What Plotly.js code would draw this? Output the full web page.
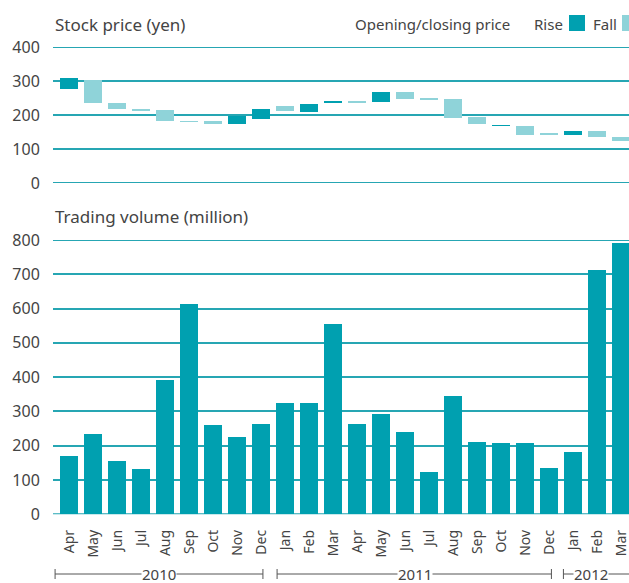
<!DOCTYPE html>
<html>
<head>
<meta charset="utf-8">
<script src="https://cdn.plot.ly/plotly-3.0.1.min.js"></script>
<style>html,body{margin:0;padding:0;background:#fff;}#chart{width:629px;height:583px;}</style>
</head>
<body>
<div id="chart"></div>
<script>
// ---- data ----
const months = ["Apr","May","Jun","Jul","Aug","Sep","Oct","Nov","Dec","Jan","Feb","Mar","Apr","May","Jun","Jul","Aug","Sep","Oct","Nov","Dec","Jan","Feb","Mar"];
const openPrice  = [276,303,235,219,216,182,182,174,188,226,209,235,241,238,268,250,247,194,168,168,147,141,153,135];
const closePrice = [309,235,218,212,182,179,174,198,218,212,232,241,235,268,247,244,191,174,171,141,141,153,135,124];
const volume     = [170,234,155,132,392,613,260,225,263,325,325,555,263,292,240,123,345,211,208,208,135,182,712,791];
const years = ["2010","2011","2012"];
const priceTicks = [0,100,200,300,400];
const volumeTicks = [0,100,200,300,400,500,600,700,800];

const DARK = "#00A0B0";
const LIGHT = "#8FD3D9";
const GRID = "#26A6B3";
const TXT = "#444444";
const FONT = "Noto Sans, sans-serif";

const idx = months.map((m,i)=>i);
const base = openPrice.map((o,i)=>Math.min(o, closePrice[i]));
const span = openPrice.map((o,i)=>Math.max(Math.abs(closePrice[i]-o), 1));
const colors = openPrice.map((o,i)=> closePrice[i] >= o ? DARK : LIGHT);

const traces = [
  {type:"bar", x:idx, y:span, base:base, marker:{color:colors, line:{width:0}}, width:0.75, xaxis:"x", yaxis:"y", hoverinfo:"skip"},
  {type:"bar", x:idx, y:volume, marker:{color:DARK, line:{width:0}}, width:0.75, xaxis:"x2", yaxis:"y2", hoverinfo:"skip"}
];

const xr = [-0.667, 23.333];
const commonY = {
  showline:false, zeroline:false, showgrid:true, gridcolor:GRID, gridwidth:2,
  ticks:"outside", ticklen:9, tickcolor:"rgba(0,0,0,0)",
  tickfont:{family:FONT, size:16, color:TXT}, fixedrange:true
};

const shapes = [];
const annotations = [];
// edge gridlines (Plotly omits gridlines at the range ends)
[[ "y", priceTicks[0] ], [ "y", priceTicks[priceTicks.length-1] ], [ "y2", volumeTicks[0] ], [ "y2", volumeTicks[volumeTicks.length-1] ]].forEach(([ax,v])=>{
  shapes.push({type:"line", xref:"paper", yref:ax, x0:0, x1:1, y0:v, y1:v, layer:"below", line:{color:GRID, width:2}});
});

const yb = 1 - 574/583;
const tickH = 5/583;
const brackets = [
  {label:years[0], x0:-0.58, x1:8.08, endRight:true, xt:3.75},
  {label:years[1], x0:8.67, x1:20.1, endRight:true, xt:14.4},
  {label:years[2], x0:20.6, x1:23.4, endRight:false, xt:21.75}
];
brackets.forEach(b=>{
  shapes.push({type:"line", xref:"x2", yref:"paper", x0:b.x0, x1:b.x1, y0:yb, y1:yb, line:{color:"#555", width:1}});
  shapes.push({type:"line", xref:"x2", yref:"paper", x0:b.x0, x1:b.x0, y0:yb-tickH, y1:yb+tickH, line:{color:"#555", width:1}});
  if (b.endRight) shapes.push({type:"line", xref:"x2", yref:"paper", x0:b.x1, x1:b.x1, y0:yb-tickH, y1:yb+tickH, line:{color:"#555", width:1}});
  annotations.push({xref:"x2", yref:"paper", x:b.xt, y:yb, text:b.label, showarrow:false, bgcolor:"#fff", borderpad:0,
    font:{family:FONT, size:15, color:TXT}, xanchor:"center", yanchor:"middle"});
});

// titles
annotations.push({xref:"paper", yref:"paper", x:0, y:1-24/583, text:"Stock price (yen)", showarrow:false, xanchor:"left", yanchor:"middle", font:{family:FONT, size:17, color:TXT}});
annotations.push({xref:"paper", yref:"paper", x:0, y:1-217/583, text:"Trading volume (million)", showarrow:false, xanchor:"left", yanchor:"middle", font:{family:FONT, size:17, color:TXT}});
// legend
const px = v => (v-53)/576;
annotations.push({xref:"paper", yref:"paper", x:px(512), y:1-24/583, text:"Opening/closing price", showarrow:false, xanchor:"right", yanchor:"middle", font:{family:FONT, size:15, color:TXT}});
annotations.push({xref:"paper", yref:"paper", x:px(565), y:1-24/583, text:"Rise", showarrow:false, xanchor:"right", yanchor:"middle", font:{family:FONT, size:15, color:TXT}});
annotations.push({xref:"paper", yref:"paper", x:px(619), y:1-24/583, text:"Fall", showarrow:false, xanchor:"right", yanchor:"middle", font:{family:FONT, size:15, color:TXT}});
shapes.push({type:"rect", xref:"paper", yref:"paper", x0:px(569), x1:px(585), y0:1-31/583, y1:1-15/583, fillcolor:DARK, line:{width:0}});
shapes.push({type:"rect", xref:"paper", yref:"paper", x0:px(622), x1:px(640), y0:1-31/583, y1:1-15/583, fillcolor:LIGHT, line:{width:0}});

const layout = {
  width:629, height:583,
  margin:{l:53, r:0, t:0, b:0, pad:0},
  paper_bgcolor:"#fff", plot_bgcolor:"rgba(0,0,0,0)",
  showlegend:false, bargap:0,
  font:{family:FONT, color:TXT},
  xaxis:{domain:[0,1], range:xr, showticklabels:false, showgrid:false, zeroline:false, showline:false, ticks:"", anchor:"y", fixedrange:true},
  yaxis:{...commonY, domain:[1-183/583, 1-47/583], range:[0,400], tickvals:priceTicks, anchor:"x"},
  xaxis2:{domain:[0,1], range:xr, tickvals:idx, ticktext:months, tickangle:-90, showgrid:false, zeroline:false, showline:false,
    ticks:"outside", ticklen:9, tickcolor:"rgba(0,0,0,0)", ticklabeloverflow:"allow",
    tickfont:{family:FONT, size:14, color:TXT}, anchor:"y2", fixedrange:true},
  yaxis2:{...commonY, domain:[1-514.3/583, 1-240/583], range:[0,800], tickvals:volumeTicks, anchor:"x2"},
  shapes:shapes, annotations:annotations
};

Plotly.newPlot("chart", traces, layout, {displayModeBar:false, staticPlot:true});
</script>
</body>
</html>
